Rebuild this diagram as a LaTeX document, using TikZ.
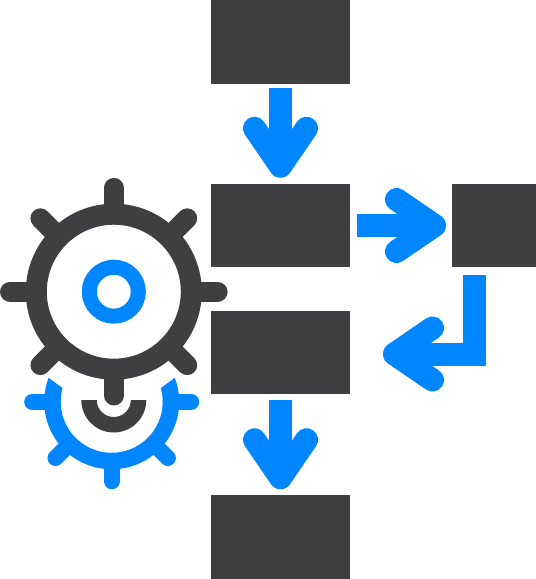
\documentclass[tikz,border=0pt]{standalone}
\usetikzlibrary{arrows.meta}
\definecolor{Charcoal}{HTML}{3F3F41}
\definecolor{Azure}{HTML}{0087FF}
\tikzset{
    stepbox/.style={fill=Charcoal, inner sep=0pt, outer sep=0pt, minimum height=83.5pt},
    widebox/.style={stepbox, minimum width=139pt},
    flowarrow/.style={draw=Azure, line width=23pt, shorten <=#1, shorten >=6pt,
        -{Straight Barb[length=38pt, width=52pt, line width=23pt, round]}},
    flowarrow/.default=6pt
}

\begin{document}
\begin{tikzpicture}[x=1pt, y=1pt]
    \useasboundingbox (0,0) rectangle (536,-579);

    % process boxes
    \node[widebox] (boxTop) at (280.5,-42) {};
    \node[widebox] (boxUpper) at (280.5,-225.5) {};
    \node[widebox] (boxLower) at (280.5,-352.5) {};
    \node[widebox] (boxBottom) at (280.5,-537) {};
    \node[stepbox, minimum width=84pt] (boxSide) at (494,-225.5) {};

    % flow arrows
    \coordinate (elbowStart) at (474,-267);
    \coordinate (elbowEnd) at ([yshift=-1.5pt]boxLower.east);
    \draw[flowarrow=4pt] (boxTop.south) -- (boxUpper.north);
    \draw[flowarrow=7pt] (boxUpper.east) -- (boxSide.west);
    \draw[flowarrow=8pt, shorten >=33pt, line join=miter] (elbowStart) |- (elbowEnd);
    \draw[flowarrow=6pt] (boxLower.south) -- (boxBottom.north);

    % blue gear
    \begin{scope}[shift={(111.7,-401.8)}]
        \foreach \a in {0,180,225,270,315}
            \draw[Azure, line width=16pt, line cap=round] (\a:59) -- (\a:79.5);
        \fill[Azure] (159.2:67.5) arc[start angle=159.2, end angle=380.8, radius=67.5]
            -- (15.6:51) arc[start angle=15.6, end angle=-195.6, radius=51] -- cycle;
    \end{scope}

    % dark gear
    \begin{scope}[shift={(113.8,-291.7)}]
        \foreach \a in {0,45,...,315}
            \draw[Charcoal, line width=20pt, line cap=round] (\a:77.5) -- (\a:103.8);
        \draw[Charcoal, line width=21pt] (0,0) circle[radius=77.5];
        \draw[Azure, line width=15pt] (0,0) circle[radius=24.5];
    \end{scope}

    % half ring under the gear
    \fill[Charcoal] (81.3,-400) arc[start angle=180, end angle=360, radius=32.5]
        -- (130.8,-400) arc[start angle=0, end angle=-180, radius=17] -- cycle;
\end{tikzpicture}
\end{document}
